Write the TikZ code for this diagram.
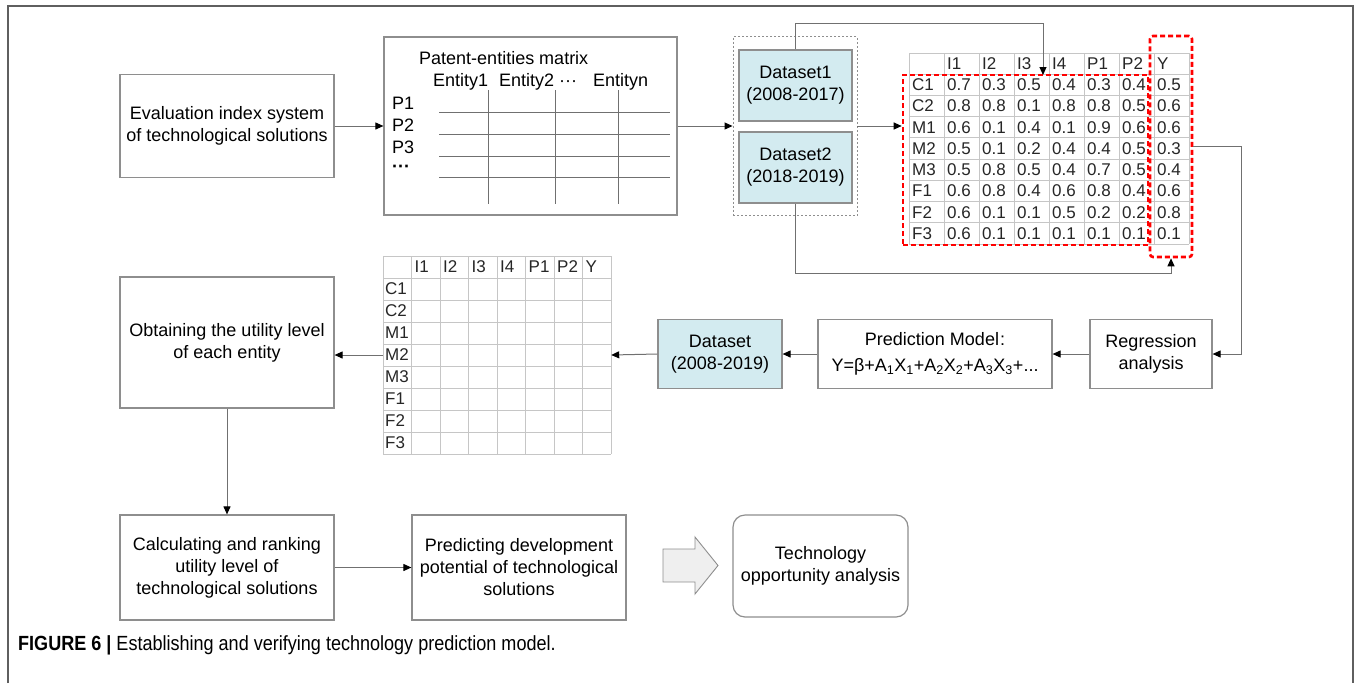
\documentclass[tikz,border=0pt]{standalone}
\usepackage{fontspec}
\setmainfont{Liberation Sans}
\newfontfamily\capfont{Liberation Sans}[FakeStretch=0.88]
\usetikzlibrary{arrows.meta,calc}
\definecolor{boxgray}{HTML}{8E8E8E}
\definecolor{linegray}{HTML}{707070}
\definecolor{dsblue}{HTML}{D3EBF0}
\definecolor{gridgray}{HTML}{C6C6C6}
\definecolor{framegray}{HTML}{5F5F5F}
\definecolor{arrowfill}{HTML}{EFEFEF}
\begin{document}
\begin{tikzpicture}[x=1pt,y=-1pt,
  txt/.style={font=\fontsize{18}{22}\selectfont},
  box/.style={draw=boxgray,line width=1.2pt,fill=white,inner sep=0pt,align=center,txt},
  dsbox/.style={box,fill=dsblue},
  conn/.style={draw=linegray,line width=1pt},
  arr/.style={conn,-{Triangle[length=8pt,width=7pt,fill=black,color=black]}},
  gridline/.style={draw=gridgray,line width=1pt},
  cell/.style={anchor=west,inner sep=0pt,font=\fontsize{17}{19}\selectfont,text=black!85},
  redbox/.style={draw=red,line width=2.6pt,dash pattern=on 5pt off 3pt,inner sep=0pt},
  mtext/.style={anchor=west,inner sep=0pt,txt}
]
\useasboundingbox (0,0) rectangle (1356,683);
% frame
\draw[framegray,line width=1.8pt] (8,683) -- (8,6) -- (1353,6) -- (1353,683);

% ---- top row ----
\node[box,minimum width=214,minimum height=103] (eval) at (227,126) {Evaluation index system\\of technological solutions};

\node[box,minimum width=293,minimum height=178] (mat) at (530.5,126) {};
\node[mtext] (mtitle) at (419,58) {Patent-entities matrix};
\node[mtext] (me1) at (433,82) {Entity1};
\node[mtext] (me2) at (499,82) {Entity2 ···};
\node[mtext] (men) at (593,82) {Entityn};
\node[mtext] (mp1) at (392,103) {P1};
\node[mtext] (mp2) at (392,125) {P2};
\node[mtext] (mp3) at (392,147) {P3};
\node[mtext] (mp4) at (392,169) {\textbf{···}};
\foreach \yy in {112,134,156,177} \draw[linegray,line width=0.9pt] (439,\yy) -- (670,\yy);
\foreach \xx in {488,555,618} \draw[linegray,line width=0.9pt] (\xx,90) -- (\xx,204);

\node[draw=boxgray,dash pattern=on 2pt off 2pt,line width=0.9pt,minimum width=124,minimum height=179,inner sep=0pt] (dsgroup) at (795,126) {};
\node[dsbox,minimum width=113,minimum height=71] (ds1) at (795.5,85.5) {Dataset1\\(2008-2017)};
\node[dsbox,minimum width=113,minimum height=71] (ds2) at (795.5,167.5) {Dataset2\\(2018-2019)};

% table 1
\foreach \i in {0,...,8} \draw[gridline] ({909+35*\i},53) -- ({909+35*\i},244);
\foreach \j in {0,...,9} \draw[gridline] (909,{53+21.222*\j}) -- (1189,{53+21.222*\j});
\node[inner sep=0pt,minimum width=280,minimum height=191] (tab1) at (1049,148.5) {};
\foreach \v [count=\c] in {I1,I2,I3,I4,P1,P2,Y}
  \node[cell,name=h1-\c] at ({909+35*\c+3},{53+10.6}) {\v};
\foreach \row [count=\r] in {{C1,0.7,0.3,0.5,0.4,0.3,0.4,0.5},{C2,0.8,0.8,0.1,0.8,0.8,0.5,0.6},{M1,0.6,0.1,0.4,0.1,0.9,0.6,0.6},{M2,0.5,0.1,0.2,0.4,0.4,0.5,0.3},{M3,0.5,0.8,0.5,0.4,0.7,0.5,0.4},{F1,0.6,0.8,0.4,0.6,0.8,0.4,0.6},{F2,0.6,0.1,0.1,0.5,0.2,0.2,0.8},{F3,0.6,0.1,0.1,0.1,0.1,0.1,0.1}}
  \foreach \v [count=\c] in \row
    \node[cell,name=t1-\r-\c] at ({909+35*(\c-1)+3},{53+21.222*\r+10.6}) {\v};
\node[redbox,minimum width=245,minimum height=170] (red1) at (1025.5,160) {};
\node[redbox,rounded corners=3pt,minimum width=42,minimum height=221] (red2) at (1171,146.5) {};
\coordinate (i3top) at (1043,75);

% ---- middle row ----
\node[box,minimum width=122,minimum height=69] (reg) at (1151,354) {Regression\\analysis};
\node[box,minimum width=234,minimum height=69] (pred) at (935,354) {Prediction Model\kern1pt{:}\\[4pt]Y=β+A\textsubscript{1}X\textsubscript{1}+A\textsubscript{2}X\textsubscript{2}+A\textsubscript{3}X\textsubscript{3}+...};
\node[dsbox,minimum width=124,minimum height=69] (ds) at (720,354) {Dataset\\(2008-2019)};

% table 2
\foreach \i in {0,...,8} \draw[gridline] ({383+28.5*\i},256) -- ({383+28.5*\i},454);
\foreach \j in {0,...,9} \draw[gridline] (383,{256+22*\j}) -- (611,{256+22*\j});
\node[inner sep=0pt,minimum width=228,minimum height=198] (tab2) at (497,355) {};
\foreach \v [count=\c] in {I1,I2,I3,I4,P1,P2,Y}
  \node[cell,name=h2-\c] at ({383+28.5*\c+3},{256+11}) {\v};
\foreach \v [count=\r] in {C1,C2,M1,M2,M3,F1,F2,F3}
  \node[cell,name=r2-\r] at (385,{256+22*\r+11}) {\v};

\node[box,minimum width=214,minimum height=131] (obt) at (227,342.5) {Obtaining the utility level\\of each entity};

% ---- bottom row ----
\node[box,minimum width=214,minimum height=105] (calc) at (227,567.5) {Calculating and ranking\\utility level of\\technological solutions};
\node[box,minimum width=214,minimum height=105] (predict) at (519,567.5) {Predicting development\\potential of technological\\solutions};
\node[box,rounded corners=12pt,minimum width=175,minimum height=102] (tech) at (820.5,566) {Technology\\opportunity analysis};
\draw[draw=boxgray,fill=arrowfill,line width=0.9pt] (663,549) -- (695,549) -- (695,537) -- (718,565.5) -- (695,594) -- (695,582) -- (663,582) -- cycle;

% caption
\node[anchor=west,inner sep=0pt,font=\capfont\fontsize{20.5}{24}\selectfont] (cap) at (18,645) {\textbf{FIGURE 6 |} Establishing and verifying technology prediction model.};

% ---- connectors ----
\draw[arr] (eval.east) -- (mat.west);
\draw[arr] (mat.east) -- (dsgroup.west);
\draw[arr] (dsgroup.east) -- (dsgroup.east -| red1.west);
\draw[arr] (ds1.north) |- ($(i3top)+(0,-52)$) -- (i3top);
\draw[arr] (ds2.south) -- ++(0,70) -| (red2.south);
\draw[arr] (red2.east) -- ++(48,0) |- (reg.east);
\draw[arr] (reg.west) -- (pred.east);
\draw[arr] (pred.west) -- (ds.east);
\draw[arr] (ds.west) -- (tab2.east);
\draw[arr] (tab2.west) -- (tab2.west -| obt.east);
\draw[arr] (obt.south) -- (calc.north);
\draw[arr] (calc.east) -- (predict.west);
\end{tikzpicture}
\end{document}
